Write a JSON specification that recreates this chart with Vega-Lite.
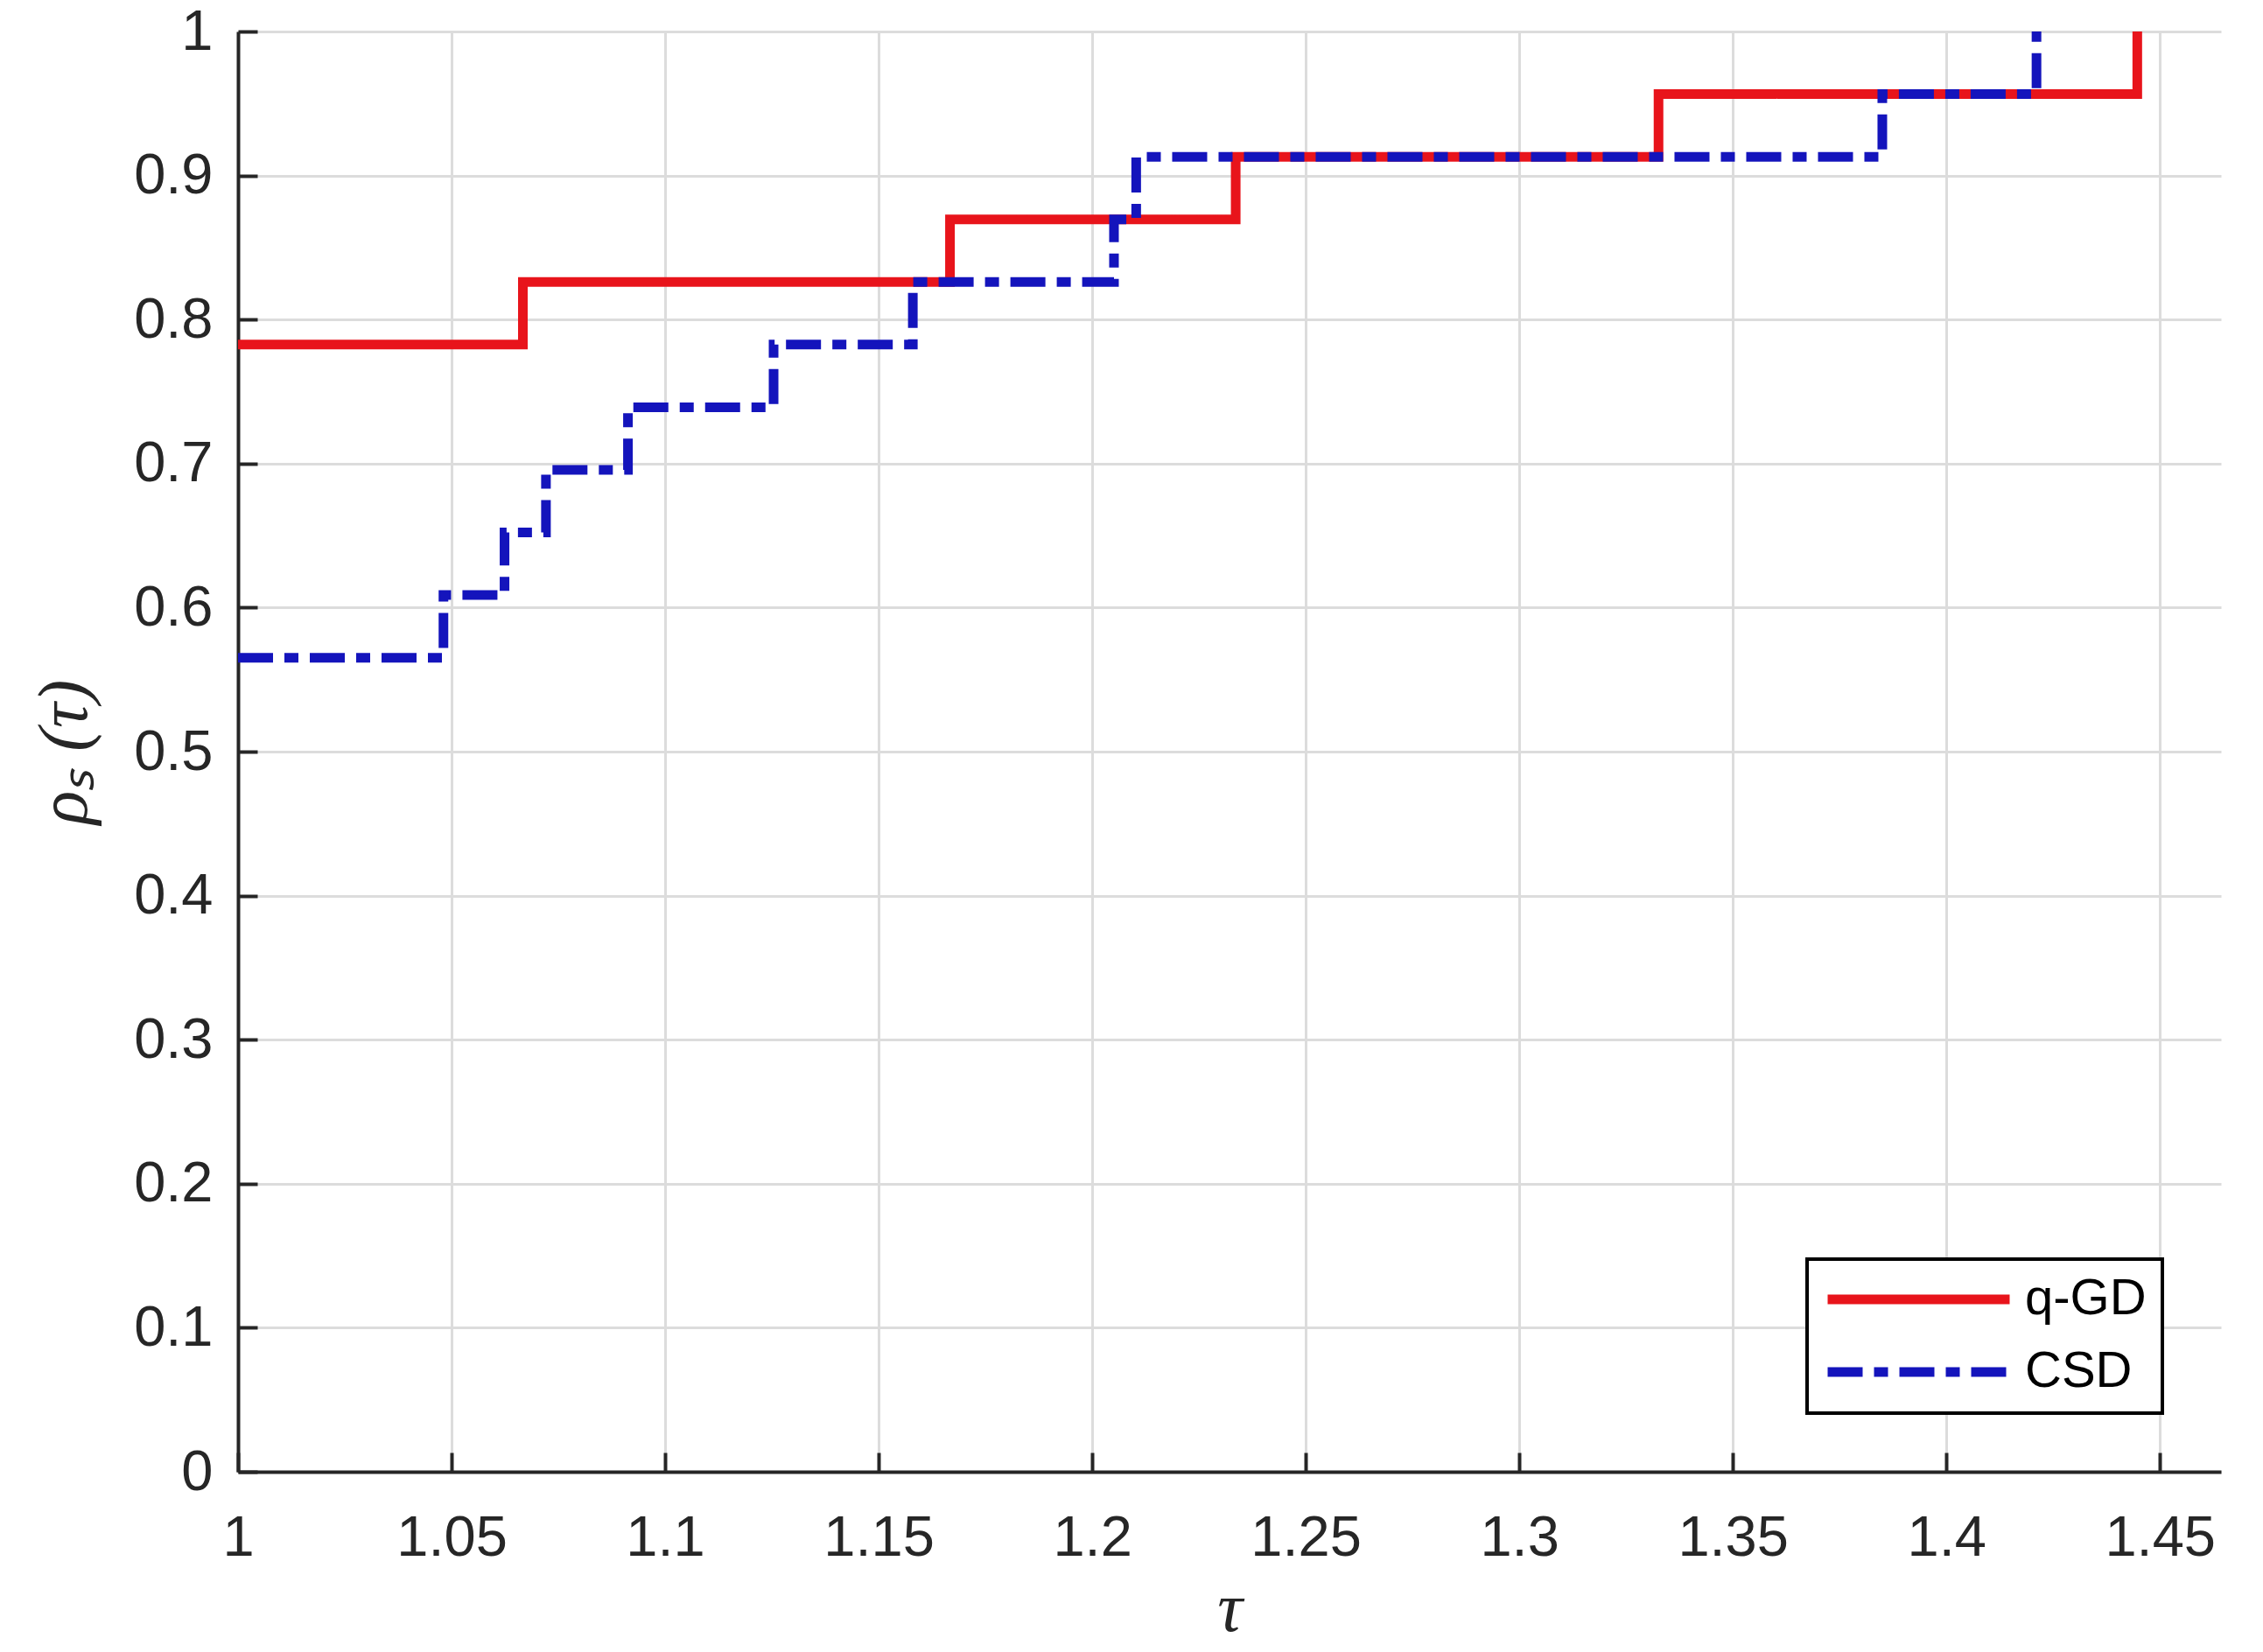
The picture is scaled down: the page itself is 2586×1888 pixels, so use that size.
{
  "$schema": "https://vega.github.io/schema/vega-lite/v6.json",
  "autosize": {"type": "none"},
  "width": 2266,
  "height": 1646,
  "padding": {"left": 272, "top": 36, "right": 48, "bottom": 206},
  "background": "white",
  "data": {
    "values": [
      {"series": "q-GD", "tau": 1.0, "rho": 0.78261},
      {"series": "q-GD", "tau": 1.0667, "rho": 0.82609},
      {"series": "q-GD", "tau": 1.1667, "rho": 0.86957},
      {"series": "q-GD", "tau": 1.2336, "rho": 0.91304},
      {"series": "q-GD", "tau": 1.3326, "rho": 0.95652},
      {"series": "q-GD", "tau": 1.4447, "rho": 1.0},
      {"series": "CSD", "tau": 1.0, "rho": 0.56522},
      {"series": "CSD", "tau": 1.0481, "rho": 0.6087},
      {"series": "CSD", "tau": 1.0624, "rho": 0.65217},
      {"series": "CSD", "tau": 1.0721, "rho": 0.69565},
      {"series": "CSD", "tau": 1.0913, "rho": 0.73913},
      {"series": "CSD", "tau": 1.1254, "rho": 0.78261},
      {"series": "CSD", "tau": 1.158, "rho": 0.82609},
      {"series": "CSD", "tau": 1.2051, "rho": 0.86957},
      {"series": "CSD", "tau": 1.2103, "rho": 0.91304},
      {"series": "CSD", "tau": 1.385, "rho": 0.95652},
      {"series": "CSD", "tau": 1.4211, "rho": 1.0}
    ]
  },
  "mark": {"type": "line", "interpolate": "step-after", "strokeWidth": 11, "strokeCap": "butt", "strokeJoin": "miter"},
  "encoding": {
    "x": {
      "field": "tau", "type": "quantitative",
      "scale": {"domain": [1, 1.4643], "nice": false, "zero": false},
      "axis": {
        "values": [1, 1.05, 1.1, 1.15, 1.2, 1.25, 1.3, 1.35, 1.4, 1.45],
        "format": "~g",
        "title": "τ",
        "titleFontSize": 80,
        "labelPadding": 66,
        "titlePadding": 10
      }
    },
    "y": {
      "field": "rho", "type": "quantitative",
      "scale": {"domain": [0, 1], "nice": false},
      "axis": {
        "values": [0, 0.1, 0.2, 0.3, 0.4, 0.5, 0.6, 0.7, 0.8, 0.9, 1],
        "format": "~g",
        "title": "ρₛ (τ)",
        "titleFontSize": 80,
        "labelPadding": 51,
        "titlePadding": 37
      }
    },
    "color": {
      "field": "series", "type": "nominal",
      "scale": {"domain": ["q-GD", "CSD"], "range": ["#e8141b", "#1414bc"]},
      "legend": {"title": null, "orient": "bottom-right", "offset": 67}
    },
    "strokeDash": {
      "field": "series", "type": "nominal",
      "scale": {"domain": ["q-GD", "CSD"], "range": [[1, 0], [40, 13, 16, 13]]},
      "legend": {"title": null, "orient": "bottom-right", "offset": 67}
    }
  },
  "config": {
    "view": {"stroke": null},
    "axis": {
      "labelFont": "Liberation Sans",
      "labelFontSize": 65,
      "labelColor": "#262626",
      "labelFlush": false,
      "labelOverlap": false,
      "domainColor": "#262626",
      "domainWidth": 4,
      "tickColor": "#262626",
      "tickWidth": 4,
      "tickSize": -22,
      "grid": true,
      "gridColor": "#dcdcdc",
      "gridWidth": 3,
      "titleFont": "Liberation Serif",
      "titleFontStyle": "italic",
      "titleFontWeight": "normal",
      "titleColor": "#262626"
    },
    "legend": {
      "labelFont": "Liberation Sans",
      "labelFontSize": 58,
      "labelColor": "#000000",
      "symbolType": "stroke",
      "symbolSize": 43264,
      "symbolStrokeWidth": 11,
      "clipHeight": 56,
      "rowPadding": 25,
      "padding": 18,
      "labelOffset": 12,
      "strokeColor": "#000000",
      "strokeWidth": 4,
      "fillColor": "#ffffff",
      "cornerRadius": 0
    }
  }
}
